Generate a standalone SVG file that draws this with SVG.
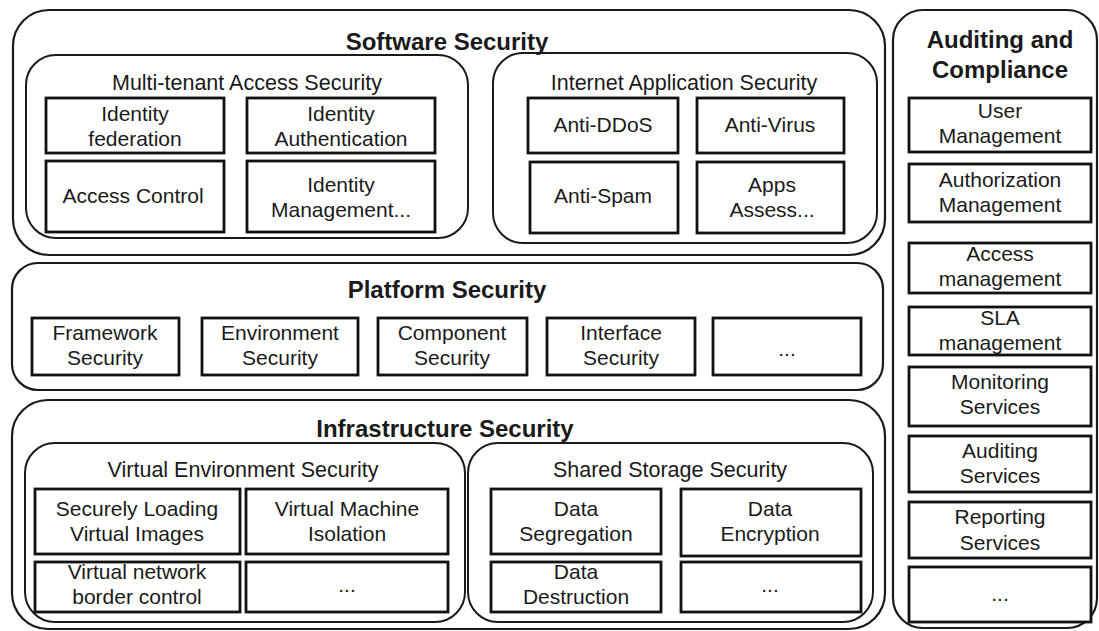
<svg xmlns="http://www.w3.org/2000/svg" width="1099" height="631" viewBox="0 0 1099 631">
<style>
.outer{fill:none;stroke:#1a1a1a;stroke-width:2.2}
.group{fill:none;stroke:#1a1a1a;stroke-width:2}
.cell{fill:#fff;stroke:#111;stroke-width:2.8}
text{font-family:"Liberation Sans",Arial,sans-serif;fill:#1a1a1a;text-anchor:middle}
.title{font-size:24px;font-weight:bold}
.sub{font-size:21.5px}
.t{font-size:21px}
</style>
<rect width="1099" height="631" fill="#fff"/>

<g id="software-security">
<rect class="outer" x="13" y="10" width="872" height="245" rx="36"/>
<text class="title" x="447" y="50">Software Security</text>
</g>
<g id="multi-tenant">
<rect class="group" x="26" y="55" width="442" height="183" rx="30"/>
<text class="sub" x="247" y="90">Multi-tenant Access Security</text>
</g>
<g id="identity-federation">
<rect class="cell" x="46" y="98" width="178" height="55"/>
<text class="t" x="135" y="121">Identity</text><text class="t" x="135" y="146">federation</text>
</g>
<g id="identity-authentication">
<rect class="cell" x="247" y="98" width="188" height="55"/>
<text class="t" x="341" y="121">Identity</text><text class="t" x="341" y="146">Authentication</text>
</g>
<g id="access-control">
<rect class="cell" x="46" y="161" width="178" height="71"/>
<text class="t" x="133" y="203">Access Control</text>
</g>
<g id="identity-management">
<rect class="cell" x="247" y="161" width="188" height="71"/>
<text class="t" x="341" y="192">Identity</text><text class="t" x="341" y="217">Management...</text>
</g>
<g id="internet-app">
<rect class="group" x="493" y="53" width="384" height="190" rx="30"/>
<text class="sub" x="684" y="90">Internet Application Security</text>
</g>
<g id="anti-ddos">
<rect class="cell" x="528" y="98" width="150" height="55"/>
<text class="t" x="603" y="132">Anti-DDoS</text>
</g>
<g id="anti-virus">
<rect class="cell" x="697" y="98" width="147" height="55"/>
<text class="t" x="770" y="132">Anti-Virus</text>
</g>
<g id="anti-spam">
<rect class="cell" x="530" y="162" width="148" height="71"/>
<text class="t" x="603" y="203">Anti-Spam</text>
</g>
<g id="apps-assess">
<rect class="cell" x="697" y="162" width="147" height="71"/>
<text class="t" x="772" y="192">Apps</text><text class="t" x="772" y="217">Assess...</text>
</g>

<g id="platform-security">
<rect class="outer" x="12" y="263" width="871" height="127" rx="26"/>
<text class="title" x="447" y="298">Platform Security</text>
</g>
<g id="framework-security">
<rect class="cell" x="32" y="318" width="147" height="57"/>
<text class="t" x="105" y="340">Framework</text><text class="t" x="105" y="365">Security</text>
</g>
<g id="environment-security">
<rect class="cell" x="202" y="318" width="156" height="57"/>
<text class="t" x="280" y="340">Environment</text><text class="t" x="280" y="365">Security</text>
</g>
<g id="component-security">
<rect class="cell" x="378" y="318" width="149" height="57"/>
<text class="t" x="452" y="340">Component</text><text class="t" x="452" y="365">Security</text>
</g>
<g id="interface-security">
<rect class="cell" x="547" y="318" width="148" height="57"/>
<text class="t" x="621" y="340">Interface</text><text class="t" x="621" y="365">Security</text>
</g>
<g id="platform-more">
<rect class="cell" x="713" y="318" width="148" height="57"/>
<text class="t" x="787" y="356">...</text>
</g>

<g id="infrastructure-security">
<rect class="outer" x="12" y="400" width="873" height="229" rx="36"/>
<text class="title" x="445" y="437">Infrastructure Security</text>
</g>
<g id="virtual-environment">
<rect class="group" x="25" y="443" width="440" height="179" rx="30"/>
<text class="sub" x="243" y="477">Virtual Environment Security</text>
</g>
<g id="secure-loading">
<rect class="cell" x="35" y="489" width="205" height="65"/>
<text class="t" x="137" y="516">Securely Loading</text><text class="t" x="137" y="541">Virtual Images</text>
</g>
<g id="vm-isolation">
<rect class="cell" x="246" y="489" width="202" height="65"/>
<text class="t" x="347" y="516">Virtual Machine</text><text class="t" x="347" y="541">Isolation</text>
</g>
<g id="border-control">
<rect class="cell" x="35" y="562" width="205" height="50"/>
<text class="t" x="137" y="579">Virtual network</text><text class="t" x="137" y="604">border control</text>
</g>
<g id="virtual-more">
<rect class="cell" x="246" y="562" width="202" height="50"/>
<text class="t" x="347" y="592">...</text>
</g>
<g id="shared-storage">
<rect class="group" x="468" y="443" width="405" height="179" rx="30"/>
<text class="sub" x="670" y="477">Shared Storage Security</text>
</g>
<g id="data-segregation">
<rect class="cell" x="491" y="489" width="170" height="65"/>
<text class="t" x="576" y="516">Data</text><text class="t" x="576" y="541">Segregation</text>
</g>
<g id="data-encryption">
<rect class="cell" x="681" y="489" width="180" height="67"/>
<text class="t" x="770" y="516">Data</text><text class="t" x="770" y="541">Encryption</text>
</g>
<g id="data-destruction">
<rect class="cell" x="491" y="562" width="170" height="50"/>
<text class="t" x="576" y="579">Data</text><text class="t" x="576" y="604">Destruction</text>
</g>
<g id="storage-more">
<rect class="cell" x="681" y="562" width="180" height="50"/>
<text class="t" x="770" y="592">...</text>
</g>

<g id="auditing-compliance">
<rect class="outer" x="893" y="10" width="204" height="618" rx="30"/>
<text class="title" x="1000" y="48">Auditing and</text>
<text class="title" x="1000" y="78">Compliance</text>
</g>
<g id="user-management">
<rect class="cell" x="909" y="98" width="182" height="54"/>
<text class="t" x="1000" y="118">User</text><text class="t" x="1000" y="143">Management</text>
</g>
<g id="authorization-management">
<rect class="cell" x="909" y="164" width="182" height="58"/>
<text class="t" x="1000" y="187">Authorization</text><text class="t" x="1000" y="212">Management</text>
</g>
<g id="access-management">
<rect class="cell" x="909" y="243" width="182" height="50"/>
<text class="t" x="1000" y="261">Access</text><text class="t" x="1000" y="286">management</text>
</g>
<g id="sla-management">
<rect class="cell" x="909" y="307" width="182" height="48"/>
<text class="t" x="1000" y="325">SLA</text><text class="t" x="1000" y="350">management</text>
</g>
<g id="monitoring-services">
<rect class="cell" x="909" y="367" width="182" height="59"/>
<text class="t" x="1000" y="389">Monitoring</text><text class="t" x="1000" y="414">Services</text>
</g>
<g id="auditing-services">
<rect class="cell" x="909" y="436" width="182" height="56"/>
<text class="t" x="1000" y="458">Auditing</text><text class="t" x="1000" y="483">Services</text>
</g>
<g id="reporting-services">
<rect class="cell" x="909" y="502" width="182" height="56"/>
<text class="t" x="1000" y="524">Reporting</text><text class="t" x="1000" y="550">Services</text>
</g>
<g id="auditing-more">
<rect class="cell" x="909" y="567" width="182" height="55"/>
<text class="t" x="1000" y="601">...</text>
</g>
<g id="connectors"></g>
</svg>
